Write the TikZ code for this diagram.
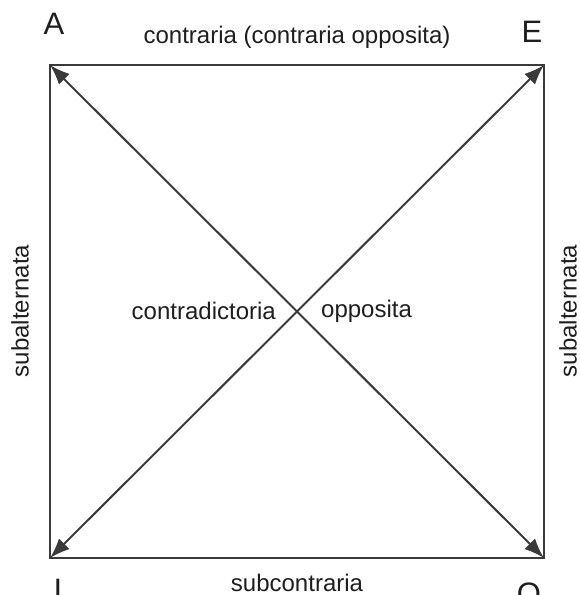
\documentclass[tikz,border=0pt]{standalone}
\usepackage{fontspec}
\setmainfont{Liberation Sans}
\usepackage{xcolor}
\definecolor{linegray}{HTML}{3A3A3A}
\definecolor{textgray}{HTML}{1E1E1E}
\usetikzlibrary{arrows.meta, positioning, calc}

\begin{document}
\begin{tikzpicture}[x=1pt, y=-1pt,
  every node/.style={text=textgray, inner sep=0pt},
  cornerlbl/.style={font=\fontsize{31}{36}\selectfont},
  relation/.style={font=\fontsize{24}{28}\selectfont},
  side/.style={draw=linegray, line width=2.6pt, line join=miter},
  diag/.style={draw=linegray, line width=2pt,
               {Latex[length=20pt,width=15pt]}-{Latex[length=20pt,width=15pt]}}
]
  \useasboundingbox (0,0) rectangle (579,595);
  % corners of the square
  \coordinate (cA) at (50,65);
  \coordinate (cE) at (544,65);
  \coordinate (cI) at (50,558);
  \coordinate (cO) at (544,558);
  \node[cornerlbl] (lA) at (54,24) {A};
  \node[cornerlbl] (lE) at (532,32) {E};
  \node[cornerlbl] (lI) at (58,590) {I};
  \node[cornerlbl] (lO) at (529,594) {O};
  % sides and diagonals
  \draw[side] (cA) -- (cE) -- (cO) -- (cI) -- cycle;
  \draw[diag] (cA) -- (cO);
  \draw[diag] (cI) -- (cE);
  % relations
  \node[relation] (contr) at (297,37) {contraria (contraria opposita)};
  \node[relation] (subc) at (297,583) {subcontraria};
  \node[relation, anchor=east] (cdict) at (276,311) {contradictoria};
  \node[relation, anchor=west] (opp) at (321,311) {opposita};
  \node[relation, rotate=90] (subL) at (20,311) {subalternata};
  \node[relation, rotate=90] (subR) at (568,311) {subalternata};
\end{tikzpicture}
\end{document}
